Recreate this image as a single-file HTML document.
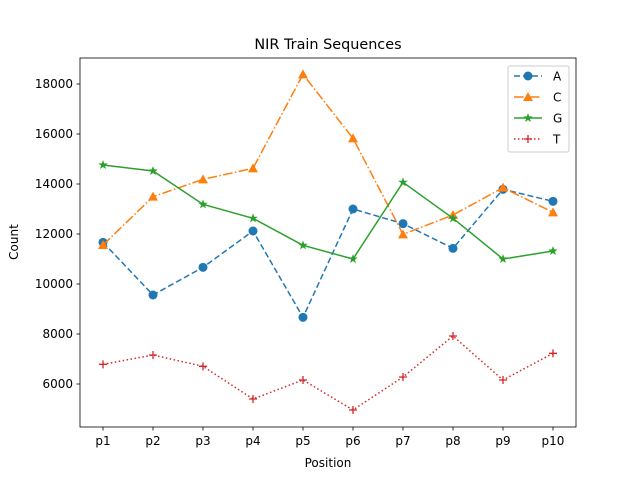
<!DOCTYPE html>
<html><head><meta charset="utf-8"><style>
body{margin:0;background:#fff}
text{font-family:"DejaVu Sans","Liberation Sans",sans-serif;fill:#000}
</style></head><body>
<svg id="chart" width="640" height="480" xmlns="http://www.w3.org/2000/svg">
<text x="328" y="49" text-anchor="middle" font-size="14.4">NIR Train Sequences</text>
<g id="plot"></g>
<text x="328" y="467" text-anchor="middle" font-size="12">Position</text>
<text x="18" y="242" text-anchor="middle" font-size="12" transform="rotate(-90 18 242)">Count</text>
</svg>
<script>
const categories=['p1','p2','p3','p4','p5','p6','p7','p8','p9','p10'];
const seriesA=[11667,9560,10667,12120,8667,13000,12413,11427,13787,13307];
const seriesC=[11560,13493,14187,14627,18387,15827,11987,12760,13853,12867];
const seriesG=[14760,14520,13187,12627,11547,11000,14067,12627,11000,11320];
const seriesT=[6787,7160,6707,5400,6160,4960,6280,7920,6160,7227];
const yTicks=[6000,8000,10000,12000,14000,16000,18000];
const L=80,R=576,T=58,B=427;
const x=i=>103+i*(553-103)/(categories.length-1);
const y=v=>384-(v-6000)*0.025;
const NS='http://www.w3.org/2000/svg';
const g=document.getElementById('plot');
function mk(tag,attrs,parent){const e=document.createElementNS(NS,tag);for(const k in attrs)e.setAttribute(k,attrs[k]);(parent||g).appendChild(e);return e;}
yTicks.forEach(v=>{
 const t=mk('line',{x1:L-3.5,x2:L,y1:y(v),y2:y(v),stroke:'#000','stroke-width':0.8});
 
 
 const tx=mk('text',{x:L-7,y:y(v)+4,'text-anchor':'end','font-size':'12'});tx.textContent=v;
 
 
});
categories.forEach((c,i)=>{
 const t=mk('line',{x1:x(i),x2:x(i),y1:B,y2:B+3.5,stroke:'#000','stroke-width':0.8});
 
 
 const tx=mk('text',{x:x(i),y:B+18,'text-anchor':'middle','font-size':'12'});tx.textContent=c;
 
 
});
function marker(type,cx,cy,col,parent,name){
 let e;
 if(type==='o')e=mk('circle',{cx:cx,cy:cy,r:4.5,fill:col},parent);
 else if(type==='^')e=mk('polygon',{points:`${cx},${cy-5} ${cx-5},${cy+4} ${cx+5},${cy+4}`,fill:col},parent);
 else if(type==='*'){let p=[];for(let k=0;k<10;k++){const r=k%2?2:5,a=-Math.PI/2+k*Math.PI/5;p.push((cx+r*Math.cos(a)).toFixed(2)+','+(cy+r*Math.sin(a)).toFixed(2));}e=mk('polygon',{points:p.join(' '),fill:col},parent);}
 else e=mk('path',{d:`M${cx-4},${cy}H${cx+4}M${cx},${cy-4}V${cy+4}`,stroke:col,'stroke-width':1.3},parent);
 
 
}
const series=[['A',seriesA,'#1f77b4','6,3','o'],['C',seriesC,'#ff7f0e','9.6,2.4,1.5,2.4','^'],['G',seriesG,'#2ca02c','','*'],['T',seriesT,'#d62728','1.5,2.5','+']];
series.forEach(([n,d,col,dash,m])=>{
 const sg=mk('g',{});
 
 
 const pl=mk('polyline',{points:d.map((v,i)=>x(i)+','+y(v)).join(' '),fill:'none',stroke:col,'stroke-width':1.5,'stroke-dasharray':dash},sg);
 
 
 d.forEach((v,i)=>marker(m,x(i),y(v),col,sg,'point-'+n));
});
const fr=mk('rect',{x:L,y:T,width:R-L,height:B-T,fill:'none',stroke:'#000','stroke-width':0.8});


const lg=mk('g',{});


mk('rect',{x:508,y:66,width:61,height:86,rx:2,fill:'#fff','fill-opacity':0.8,stroke:'#ccc','stroke-width':1},lg);
series.forEach(([n,d,col,dash,m],k)=>{
 const cy=76+k*21;
 const e=mk('g',{},lg);
 
 
 mk('line',{x1:514,x2:542,y1:cy,y2:cy,stroke:col,'stroke-width':1.5,'stroke-dasharray':dash},e);
 marker(m,528,cy,col,e,'legend-marker-'+n);
 const t=mk('text',{x:553,y:cy+4.5,'font-size':'12'},e);t.textContent=n;
 
 
});
</script>
</body></html>
